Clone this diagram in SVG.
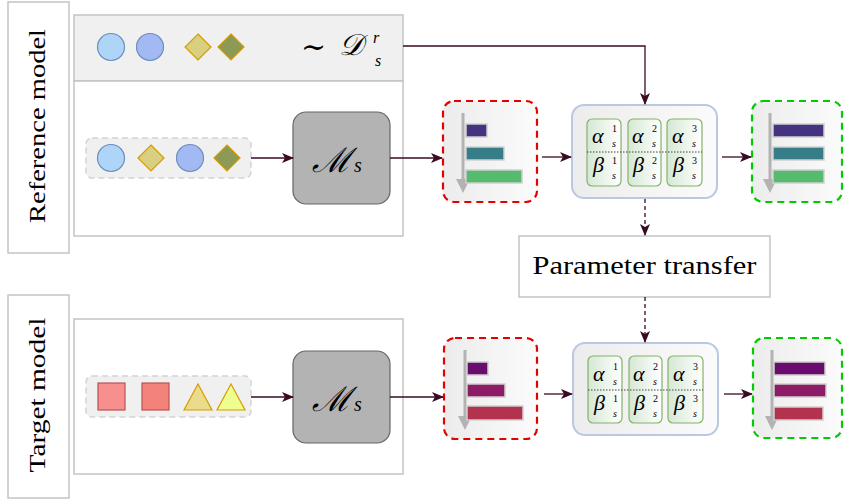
<svg xmlns="http://www.w3.org/2000/svg" width="844" height="499" viewBox="0 0 844 499">
<defs>
<marker id="ah" markerWidth="12" markerHeight="10" refX="11" refY="5" orient="auto" markerUnits="userSpaceOnUse"><path d="M0,0 L12,5 L0,10 L3,5 Z" fill="#3a0a25"/></marker>
<linearGradient id="gbox" x1="0" y1="0" x2="1" y2="0"><stop offset="0" stop-color="#ececec"/><stop offset="1" stop-color="#fbfbfb"/></linearGradient>
<linearGradient id="gcell" x1="0" y1="0" x2="1" y2="0"><stop offset="0" stop-color="#d5e8d4"/><stop offset="1" stop-color="#ffffff"/></linearGradient>
</defs>
<style>
.lbl{fill:#fff;stroke:#c4c4c4;stroke-width:1.5}
.panel{fill:#fff;stroke:#c4c4c4;stroke-width:1.5}
.strip{fill:#f0f0f0;stroke:#c4c4c4;stroke-width:1.5}
.inbox{fill:#f0f0f0;stroke:#d3d3d3;stroke-width:1.5;stroke-dasharray:6 4}
.model{fill:#b3b3b3;stroke:#666;stroke-width:1.2}
.red{fill:url(#gbox);stroke:#e60000;stroke-width:2.2;stroke-dasharray:7 5}
.grn{fill:url(#gbox);stroke:#00cc00;stroke-width:2.2;stroke-dasharray:7 5}
.par{fill:url(#gbox);stroke:#b8c9e1;stroke-width:2}
.cell{fill:url(#gcell);stroke:#82b366;stroke-width:1.2}
.dot{stroke:#444;stroke-width:1;stroke-dasharray:1.5 1.5}
.bar{stroke:#d0d0d0;stroke-width:1.5}
.gax{stroke:#b3b3b3;stroke-width:3}
.gah{fill:#b3b3b3}
.c{stroke:#3a0a25;stroke-width:1.3;fill:none}
.cd{stroke:#3a0a25;stroke-width:1.3;fill:none;stroke-dasharray:4 3}
.serif{font-family:"Liberation Serif","DejaVu Serif",serif;fill:#000}
.m{font-family:"Liberation Serif","DejaVu Serif",serif;font-style:italic;fill:#000}
.g{font-family:"Liberation Serif","DejaVu Serif",serif;font-style:italic;fill:#000;font-size:22px}
.sp{font-family:"Liberation Serif","DejaVu Serif",serif;fill:#000;font-size:10px}
.sb{font-family:"Liberation Serif","DejaVu Serif",serif;font-style:italic;fill:#000;font-size:10px}
</style>

<g id="ref-label"><rect class="lbl" x="8" y="2" width="61" height="251"/>
<text class="serif" font-size="23" transform="translate(45,126) rotate(-90)" text-anchor="middle" textLength="194" lengthAdjust="spacingAndGlyphs">Reference model</text></g>
<g id="tgt-label"><rect class="lbl" x="8" y="295" width="61" height="203"/>
<text class="serif" font-size="23" transform="translate(45,395) rotate(-90)" text-anchor="middle" textLength="155" lengthAdjust="spacingAndGlyphs">Target model</text></g>

<g id="ref-dist"><rect class="strip" x="74" y="15" width="329" height="66"/>
<circle cx="111" cy="47" r="13.5" fill="#aed4f7" stroke="#6c8ebf" stroke-width="1.2"/>
<circle cx="150" cy="47" r="13.5" fill="#a2b9f4" stroke="#6c8ebf" stroke-width="1.2"/>
<path d="M198,34 L211,47 L198,60 L185,47 Z" fill="#d9cf80" stroke="#d79b00" stroke-width="1.2"/>
<path d="M231,34 L244,47 L231,60 L218,47 Z" fill="#8c9a55" stroke="#d79b00" stroke-width="1.2"/>
<text class="serif" font-size="30" x="301" y="57">∼</text>
<text class="m" font-size="30" x="339" y="55">𝒟</text>
<text class="m" font-size="16" x="373" y="43">r</text>
<text class="m" font-size="16" x="375" y="66">s</text>
</g>
<g id="ref-panel"><rect class="panel" x="74" y="81" width="329" height="155"/></g>
<g id="ref-input"><rect class="inbox" x="86" y="138" width="165" height="40" rx="6"/>
<circle cx="111" cy="158" r="13.5" fill="#aed4f7" stroke="#6c8ebf" stroke-width="1.2"/>
<path d="M151,145 L164,158 L151,171 L138,158 Z" fill="#d9cf80" stroke="#d79b00" stroke-width="1.2"/>
<circle cx="190" cy="158" r="13.5" fill="#a2b9f4" stroke="#6c8ebf" stroke-width="1.2"/>
<path d="M227,145 L240,158 L227,171 L214,158 Z" fill="#8c9a55" stroke="#d79b00" stroke-width="1.2"/>
</g>
<g id="ref-model"><rect class="model" x="293" y="112" width="97" height="92" rx="13"/>
<text class="m" font-size="34" x="312" y="172">ℳ</text><text class="m" font-size="20" x="354" y="172">s</text></g>
<g id="ref-pred"><rect class="red" x="443" y="101" width="94" height="101" rx="11"/>
<line class="gax" x1="463" y1="113" x2="463" y2="181"/><path class="gah" d="M456,179 H470 L463,193 Z"/>
<rect class="bar" x="466" y="124" width="21" height="13" fill="#46337f"/>
<rect class="bar" x="466" y="147" width="38" height="13" fill="#377d87"/>
<rect class="bar" x="466" y="170" width="56" height="13" fill="#57bb6e"/></g>
<g id="ref-params"><rect class="par" x="572" y="105" width="145" height="93" rx="12"/>
<rect class="cell" x="587" y="119" width="34" height="67" rx="5"/>
<rect class="cell" x="628" y="119" width="33" height="67" rx="5"/>
<rect class="cell" x="667" y="119" width="35" height="67" rx="5"/>
<line class="dot" x1="587" y1="152" x2="702" y2="152"/>
<text class="g" x="592" y="143">α</text><text class="sp" x="612" y="132">1</text><text class="sb" x="612" y="147">s</text>
<text class="g" x="632" y="143">α</text><text class="sp" x="652" y="132">2</text><text class="sb" x="652" y="147">s</text>
<text class="g" x="672" y="143">α</text><text class="sp" x="692" y="132">3</text><text class="sb" x="692" y="147">s</text>
<text class="g" x="593" y="172">β</text><text class="sp" x="612" y="164">1</text><text class="sb" x="612" y="179">s</text>
<text class="g" x="633" y="172">β</text><text class="sp" x="652" y="164">2</text><text class="sb" x="652" y="179">s</text>
<text class="g" x="673" y="172">β</text><text class="sp" x="692" y="164">3</text><text class="sb" x="692" y="179">s</text>
</g>
<g id="ref-out"><rect class="grn" x="752" y="101" width="90" height="101" rx="11"/>
<line class="gax" x1="770" y1="113" x2="770" y2="181"/><path class="gah" d="M763,179 H777 L770,193 Z"/>
<rect class="bar" x="773" y="124" width="51" height="13" fill="#46337f"/>
<rect class="bar" x="773" y="147" width="51" height="13" fill="#377d87"/>
<rect class="bar" x="773" y="170" width="51" height="13" fill="#57bb6e"/></g>

<g id="transfer"><rect class="lbl" x="519" y="236" width="251" height="61"/>
<text class="serif" font-size="25" x="644.5" y="274" text-anchor="middle" textLength="224" lengthAdjust="spacingAndGlyphs">Parameter transfer</text></g>

<g id="tgt-panel"><rect class="panel" x="74" y="319" width="329" height="155"/></g>
<g id="tgt-input"><rect class="inbox" x="86" y="376" width="165" height="41" rx="6"/>
<rect x="98" y="383" width="27" height="27" fill="#f88f8f" stroke="#b85450" stroke-width="1.2"/>
<rect x="142" y="383" width="27" height="27" fill="#f3837a" stroke="#b85450" stroke-width="1.2"/>
<path d="M198,384 L212,410 L184,410 Z" fill="#eadc8b" stroke="#d79b00" stroke-width="1.2"/>
<path d="M231,384 L245,410 L217,410 Z" fill="#eeff90" stroke="#d79b00" stroke-width="1.2"/>
</g>
<g id="tgt-model"><rect class="model" x="293" y="351" width="97" height="92" rx="13"/>
<text class="m" font-size="34" x="312" y="411">ℳ</text><text class="m" font-size="20" x="354" y="411">s</text></g>
<g id="tgt-pred"><rect class="red" x="444" y="338" width="93" height="101" rx="11"/>
<line class="gax" x1="465" y1="350" x2="465" y2="418"/><path class="gah" d="M458,416 H472 L465,430 Z"/>
<rect class="bar" x="467" y="362" width="21" height="13" fill="#6a0b6e"/>
<rect class="bar" x="467" y="384" width="38" height="13" fill="#8d1c66"/>
<rect class="bar" x="467" y="406" width="56" height="14" fill="#b3334f"/></g>
<g id="tgt-params"><rect class="par" x="573" y="343" width="145" height="92" rx="12"/>
<rect class="cell" x="588" y="356" width="34" height="67" rx="5"/>
<rect class="cell" x="629" y="356" width="33" height="67" rx="5"/>
<rect class="cell" x="668" y="356" width="35" height="67" rx="5"/>
<line class="dot" x1="588" y1="390" x2="703" y2="390"/>
<text class="g" x="593" y="381">α</text><text class="sp" x="613" y="370">1</text><text class="sb" x="613" y="385">s</text>
<text class="g" x="633" y="381">α</text><text class="sp" x="653" y="370">2</text><text class="sb" x="653" y="385">s</text>
<text class="g" x="673" y="381">α</text><text class="sp" x="693" y="370">3</text><text class="sb" x="693" y="385">s</text>
<text class="g" x="594" y="410">β</text><text class="sp" x="613" y="402">1</text><text class="sb" x="613" y="417">s</text>
<text class="g" x="634" y="410">β</text><text class="sp" x="653" y="402">2</text><text class="sb" x="653" y="417">s</text>
<text class="g" x="674" y="410">β</text><text class="sp" x="693" y="402">3</text><text class="sb" x="693" y="417">s</text>
</g>
<g id="tgt-out"><rect class="grn" x="753" y="338" width="89" height="100" rx="11"/>
<line class="gax" x1="772" y1="350" x2="772" y2="418"/><path class="gah" d="M765,416 H779 L772,430 Z"/>
<rect class="bar" x="774" y="362" width="51" height="13" fill="#6a0b6e"/>
<rect class="bar" x="774" y="384" width="52" height="13" fill="#8d1c66"/>
<rect class="bar" x="774" y="407" width="49" height="13" fill="#b3334f"/></g>

<g id="connectors">
<path class="c" d="M403,46 H645 V104" marker-end="url(#ah)"/>
<path class="c" d="M251,158 H293" marker-end="url(#ah)"/>
<path class="c" d="M390,158 H442" marker-end="url(#ah)"/>
<path class="c" d="M542,157 H571" marker-end="url(#ah)"/>
<path class="c" d="M722,157 H751" marker-end="url(#ah)"/>
<path class="cd" d="M645,199 V235" marker-end="url(#ah)"/>
<path class="cd" d="M645,297 V342" marker-end="url(#ah)"/>
<path class="c" d="M251,397 H293" marker-end="url(#ah)"/>
<path class="c" d="M390,397 H443" marker-end="url(#ah)"/>
<path class="c" d="M544,394 H572" marker-end="url(#ah)"/>
<path class="c" d="M724,394 H752" marker-end="url(#ah)"/>
</g>
</svg>
